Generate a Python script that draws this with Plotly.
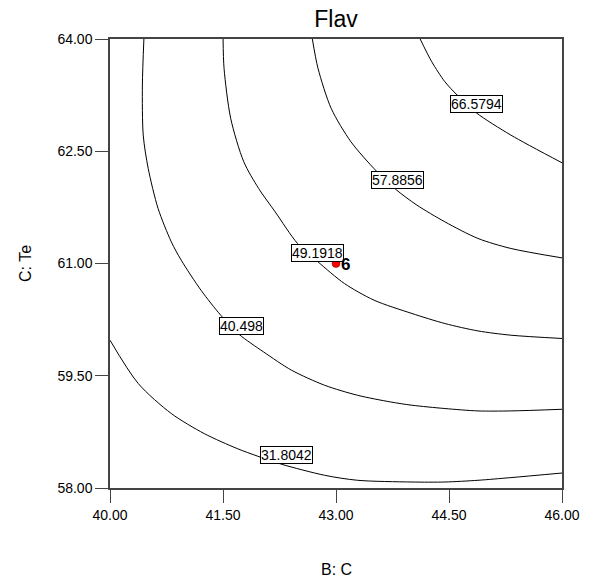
import plotly.graph_objects as go

# Contour levels of the response "Flav"
levels = [31.8042, 40.498, 49.1918, 57.8856, 66.5794]

# Contour lines (B: C on x, C: Te on y)
b_31 = [40.00, 40.375, 40.814, 41.251, 41.688, 41.964, 42.279, 42.849, 43.286, 44.008, 44.445, 44.884, 45.321, 46.00]
c_31 = [59.975, 59.396, 58.995, 58.727, 58.527, 58.424, 58.317, 58.170, 58.103, 58.080, 58.080, 58.103, 58.139, 58.200]

b_40 = [40.450, 40.430, 40.441, 40.507, 40.638, 40.814, 40.945, 41.208, 41.470, 41.711, 42.039, 42.410, 42.849, 43.286, 43.723, 44.008, 44.445, 44.884, 45.321, 46.00]
c_40 = [64.00, 63.385, 62.716, 62.271, 61.736, 61.289, 61.045, 60.643, 60.309, 60.055, 59.818, 59.574, 59.373, 59.239, 59.150, 59.106, 59.062, 59.030, 59.030, 59.052]

b_49 = [41.501, 41.514, 41.602, 41.776, 41.973, 42.192, 42.489, 42.761, 43.111, 43.505, 44.008, 44.445, 44.884, 45.321, 46.00]
c_49 = [64.00, 63.608, 62.940, 62.359, 62.003, 61.691, 61.268, 61.022, 60.733, 60.510, 60.332, 60.198, 60.099, 60.042, 59.998]

b_57 = [42.686, 42.761, 42.936, 43.198, 43.536, 43.789, 44.074, 44.445, 44.884, 45.321, 46.00]
c_57 = [64.00, 63.608, 63.073, 62.627, 62.235, 61.994, 61.780, 61.557, 61.335, 61.201, 61.075]

b_66 = [44.117, 44.271, 44.445, 44.608, 44.862, 45.321, 46.00]
c_66 = [64.00, 63.696, 63.429, 63.251, 63.014, 62.716, 62.346]

curves_b = [b_31, b_40, b_49, b_57, b_66]
curves_c = [c_31, c_40, c_49, c_57, c_66]

# Where each level's label sits on its line (data units)
label_b = [42.34, 41.75, 42.76, 43.81, 44.86]
label_c = [58.437, 60.17, 61.145, 62.114, 63.133]
label_text = ["31.8042", "40.498", "49.1918", "57.8856", "66.5794"]

# Design point
point_b = [43.0]
point_c = [61.0]
point_label = ["6"]

FONT = "Liberation Sans, Arial, Helvetica, sans-serif"

fig = go.Figure()
for bx, cy in zip(curves_b, curves_c):
    fig.add_trace(go.Scatter(
        x=bx, y=cy, mode="lines",
        line=dict(color="black", width=1, shape="spline", smoothing=0.8),
        showlegend=False, hoverinfo="skip",
    ))

fig.add_trace(go.Scatter(
    x=point_b, y=point_c, mode="markers",
    marker=dict(color="red", size=8, line=dict(color="#800000", width=0.5)),
    showlegend=False,
))

annotations = []
for bx, cy, t in zip(label_b, label_c, label_text):
    annotations.append(dict(
        x=bx, y=cy, xref="x", yref="y", text=t, showarrow=False,
        font=dict(family=FONT, size=14, color="black"),
        bgcolor="white", bordercolor="black", borderwidth=1, borderpad=0,
    ))
for bx, cy, t in zip(point_b, point_c, point_label):
    annotations.append(dict(
        x=bx, y=cy, xref="x", yref="y", text="<b>" + t + "</b>", showarrow=False,
        xanchor="left", xshift=3, yshift=-1,
        font=dict(family=FONT, size=17, color="black"),
    ))

annotations.append(dict(
    x=0.5, y=-0.1826, xref="paper", yref="paper", text="B: C", showarrow=False,
    xanchor="center", yanchor="middle", font=dict(family=FONT, size=16, color="black"),
))
annotations.append(dict(
    x=-0.187, y=0.5, xref="paper", yref="paper", text="C: Te", showarrow=False,
    textangle=-90, xanchor="center", yanchor="middle",
    font=dict(family=FONT, size=16, color="black"),
))

axis_common = dict(
    showgrid=False, zeroline=False, showline=True, mirror=True,
    linecolor="#444", linewidth=1.5, ticks="outside", ticklen=13,
    tickcolor="#444", tickwidth=1.2, tickformat=".2f",
    tickfont=dict(family=FONT, size=14, color="black"),
)

fig.update_layout(
    width=592, height=585,
    margin=dict(l=110, r=25, t=39, b=97),
    paper_bgcolor="white", plot_bgcolor="white",
    title=dict(text="Flav", x=0.5, xref="paper", y=1 - 19 / 585, yref="container",
               xanchor="center", yanchor="middle",
               font=dict(family=FONT, size=23, color="black")),
    xaxis=dict(range=[40, 46], tick0=40, dtick=1.5, **axis_common),
    yaxis=dict(range=[58, 64], tick0=58, dtick=1.5, **axis_common),
    annotations=annotations,
)

fig.write_html("out.html")
